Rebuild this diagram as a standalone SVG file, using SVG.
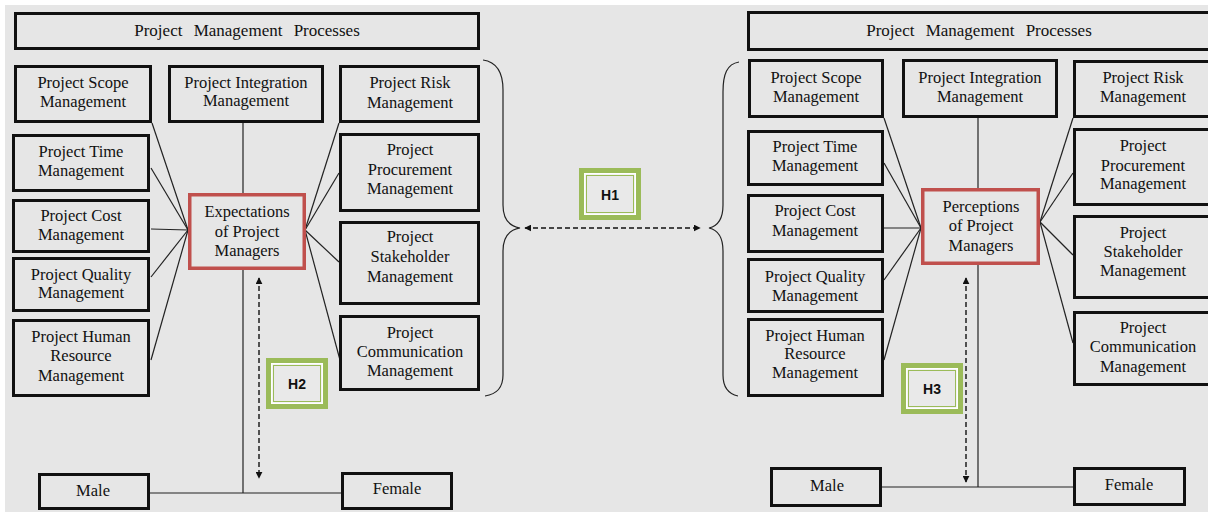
<svg xmlns="http://www.w3.org/2000/svg" width="1208" height="512" viewBox="0 0 1208 512">
<style>
.box{fill:none;stroke:#111;stroke-width:3}
.red{fill:none;stroke:#c0504d;stroke-width:3.5}
.t{font-family:'Liberation Serif','Times New Roman',Times,serif;font-size:16.5px;fill:#111;text-anchor:middle}
.title{word-spacing:7px;font-size:17px}
.h{font-family:'Liberation Sans',Arial,sans-serif;font-size:14px;font-weight:bold;fill:#111;text-anchor:middle}
.ln{stroke:#222;stroke-width:1.2;fill:none}
.dash{stroke:#111;stroke-width:1.4;stroke-dasharray:5,3;fill:none;marker-start:url(#ah);marker-end:url(#ah)}
.g1{fill:#e9e9e9;stroke:#9bbb59;stroke-width:5}
.g2{fill:none;stroke:#ffffff;stroke-width:1.5}
.g3{fill:none;stroke:#9bbb59;stroke-width:1}
</style>
<defs>
<marker id="ah" viewBox="0 0 10 10" refX="9" refY="5" markerWidth="7" markerHeight="7" orient="auto-start-reverse" markerUnits="userSpaceOnUse">
<path d="M0,0 L10,5 L0,10 Z" fill="#111"/>
</marker>
</defs>
<rect x="0" y="0" width="1208" height="512" fill="#ffffff"/>
<rect x="5" y="5" width="1203" height="507" fill="#e6e6e6"/>

<g id="connectors">
<line class="ln" x1="243" y1="123" x2="243" y2="193"/>
<line class="ln" x1="152" y1="123" x2="188" y2="230"/>
<line class="ln" x1="151" y1="168" x2="188" y2="230"/>
<line class="ln" x1="151" y1="229" x2="188" y2="230"/>
<line class="ln" x1="151" y1="277" x2="188" y2="230"/>
<line class="ln" x1="151" y1="360" x2="188" y2="230"/>
<line class="ln" x1="339" y1="123" x2="305" y2="230"/>
<line class="ln" x1="339" y1="173" x2="305" y2="230"/>
<line class="ln" x1="339" y1="262" x2="305" y2="230"/>
<line class="ln" x1="340" y1="360" x2="305" y2="230"/>
<line class="ln" x1="243" y1="270" x2="243" y2="493"/>
<line class="ln" x1="150" y1="493" x2="341" y2="493"/>
<line class="dash" x1="259" y1="278" x2="259" y2="478"/>
<path class="ln" d="M483,60 C497,62 503,72 503,90 L503,205 C503,218 508,226 520,228 C508,230 503,238 503,251 L503,375 C503,388 497,394 485,396"/>
<line class="dash" x1="525" y1="228" x2="700" y2="228"/>
<path class="ln" d="M739,62 C727,64 723,74 723,92 L723,205 C723,218 718,226 709,228 C718,230 723,238 723,251 L723,375 C723,388 729,394 738,396"/>
<line class="ln" x1="978" y1="118" x2="978" y2="188"/>
<line class="ln" x1="884" y1="118" x2="921" y2="228"/>
<line class="ln" x1="884" y1="163" x2="921" y2="228"/>
<line class="ln" x1="884" y1="228" x2="921" y2="228"/>
<line class="ln" x1="884" y1="280" x2="921" y2="228"/>
<line class="ln" x1="884" y1="360" x2="921" y2="228"/>
<line class="ln" x1="1073" y1="118" x2="1040" y2="222"/>
<line class="ln" x1="1073" y1="173" x2="1040" y2="222"/>
<line class="ln" x1="1073" y1="255" x2="1040" y2="222"/>
<line class="ln" x1="1073" y1="343" x2="1040" y2="222"/>
<line class="ln" x1="978" y1="265" x2="978" y2="487"/>
<line class="ln" x1="882" y1="487" x2="1073" y2="487"/>
<line class="dash" x1="966" y1="278" x2="966" y2="482"/>
</g>

<g font-family="'Liberation Serif', 'Times New Roman', serif">
<g id="l-title"><rect class="box" x="15.5" y="13.5" width="463" height="35"/><text class="t title" x="247" y="36">Project Management Processes</text></g>
<g id="l-scope"><rect class="box" x="15.5" y="66.5" width="135" height="55"/><text class="t" x="83" y="88">Project Scope</text><text class="t" x="83" y="107">Management</text></g>
<g id="l-integration"><rect class="box" x="169.5" y="66.5" width="153" height="55"/><text class="t" x="246" y="88">Project Integration</text><text class="t" x="246" y="106">Management</text></g>
<g id="l-risk"><rect class="box" x="340.5" y="66.5" width="138" height="55"/><text class="t" x="410" y="88">Project Risk</text><text class="t" x="410" y="108">Management</text></g>
<g id="l-time"><rect class="box" x="13.5" y="135.5" width="135" height="55"/><text class="t" x="81" y="157">Project Time</text><text class="t" x="81" y="176">Management</text></g>
<g id="l-procurement"><rect class="box" x="340.5" y="134.5" width="138" height="76"/><text class="t" x="410" y="155">Project</text><text class="t" x="410" y="175">Procurement</text><text class="t" x="410" y="194">Management</text></g>
<g id="l-cost"><rect class="box" x="13.5" y="200.5" width="135" height="51"/><text class="t" x="81" y="221">Project Cost</text><text class="t" x="81" y="240">Management</text></g>
<g id="l-quality"><rect class="box" x="13.5" y="258.5" width="135" height="52"/><text class="t" x="81" y="280">Project Quality</text><text class="t" x="81" y="298">Management</text></g>
<g id="l-hr"><rect class="box" x="13.5" y="320.5" width="135" height="75"/><text class="t" x="81" y="342">Project Human</text><text class="t" x="81" y="361">Resource</text><text class="t" x="81" y="381">Management</text></g>
<g id="l-stakeholder"><rect class="box" x="340.5" y="222.5" width="138" height="81"/><text class="t" x="410" y="242">Project</text><text class="t" x="410" y="262">Stakeholder</text><text class="t" x="410" y="282">Management</text></g>
<g id="l-communication"><rect class="box" x="340.5" y="316.5" width="138" height="73"/><text class="t" x="410" y="338">Project</text><text class="t" x="410" y="357">Communication</text><text class="t" x="410" y="376">Management</text></g>
<g id="l-expectations"><rect class="red" x="189.75" y="194.75" width="114.5" height="73.5"/><text class="t" x="247" y="217">Expectations</text><text class="t" x="247" y="237">of Project</text><text class="t" x="247" y="256">Managers</text></g>
<g id="l-male"><rect class="box" x="39.5" y="474.5" width="109" height="34"/><text class="t" x="93" y="496">Male</text></g>
<g id="l-female"><rect class="box" x="342.5" y="473.5" width="109" height="35"/><text class="t" x="397" y="494">Female</text></g>

<g id="r-title"><rect class="box" x="748.5" y="12.5" width="464" height="37"/><text class="t title" x="979" y="36">Project Management Processes</text></g>
<g id="r-scope"><rect class="box" x="749.5" y="60.5" width="133" height="56"/><text class="t" x="816" y="83">Project Scope</text><text class="t" x="816" y="102">Management</text></g>
<g id="r-integration"><rect class="box" x="903.5" y="60.5" width="153" height="56"/><text class="t" x="980" y="83">Project Integration</text><text class="t" x="980" y="102">Management</text></g>
<g id="r-risk"><rect class="box" x="1074.5" y="61.5" width="140" height="55"/><text class="t" x="1143" y="83">Project Risk</text><text class="t" x="1143" y="102">Management</text></g>
<g id="r-time"><rect class="box" x="748.5" y="131.5" width="134" height="53"/><text class="t" x="815" y="152">Project Time</text><text class="t" x="815" y="171">Management</text></g>
<g id="r-procurement"><rect class="box" x="1074.5" y="129.5" width="140" height="75"/><text class="t" x="1143" y="151">Project</text><text class="t" x="1143" y="171">Procurement</text><text class="t" x="1143" y="189">Management</text></g>
<g id="r-cost"><rect class="box" x="748.5" y="195.5" width="134" height="56"/><text class="t" x="815" y="216">Project Cost</text><text class="t" x="815" y="236">Management</text></g>
<g id="r-quality"><rect class="box" x="748.5" y="259.5" width="134" height="52"/><text class="t" x="815" y="282">Project Quality</text><text class="t" x="815" y="301">Management</text></g>
<g id="r-hr"><rect class="box" x="748.5" y="319.5" width="134" height="76"/><text class="t" x="815" y="341">Project Human</text><text class="t" x="815" y="359">Resource</text><text class="t" x="815" y="378">Management</text></g>
<g id="r-stakeholder"><rect class="box" x="1074.5" y="216.5" width="140" height="81"/><text class="t" x="1143" y="238">Project</text><text class="t" x="1143" y="257">Stakeholder</text><text class="t" x="1143" y="276">Management</text></g>
<g id="r-communication"><rect class="box" x="1074.5" y="312.5" width="140" height="72"/><text class="t" x="1143" y="333">Project</text><text class="t" x="1143" y="352">Communication</text><text class="t" x="1143" y="372">Management</text></g>
<g id="r-perceptions"><rect class="red" x="922.75" y="189.75" width="115.5" height="73.5"/><text class="t" x="981" y="212">Perceptions</text><text class="t" x="981" y="231">of Project</text><text class="t" x="981" y="251">Managers</text></g>
<g id="r-male"><rect class="box" x="771.5" y="468.5" width="109" height="37"/><text class="t" x="827" y="491">Male</text></g>
<g id="r-female"><rect class="box" x="1074.5" y="468.5" width="110" height="36"/><text class="t" x="1129" y="490">Female</text></g>
</g>

<g id="h2"><rect class="g1" x="268.5" y="360.5" width="57" height="46"/><rect class="g2" x="271.75" y="363.75" width="50.5" height="39.5"/><rect class="g3" x="273.5" y="365.5" width="47" height="36"/><text class="h" x="297" y="389">H2</text></g>
<g id="h1"><rect class="g1" x="581.5" y="170.5" width="57" height="47"/><rect class="g2" x="584.75" y="173.75" width="50.5" height="40.5"/><rect class="g3" x="586.5" y="175.5" width="47" height="37"/><text class="h" x="610" y="200">H1</text></g>
<g id="h3"><rect class="g1" x="903.5" y="365.5" width="57" height="46"/><rect class="g2" x="906.75" y="368.75" width="50.5" height="39.5"/><rect class="g3" x="908.5" y="370.5" width="47" height="36"/><text class="h" x="932" y="394">H3</text></g>
</svg>
